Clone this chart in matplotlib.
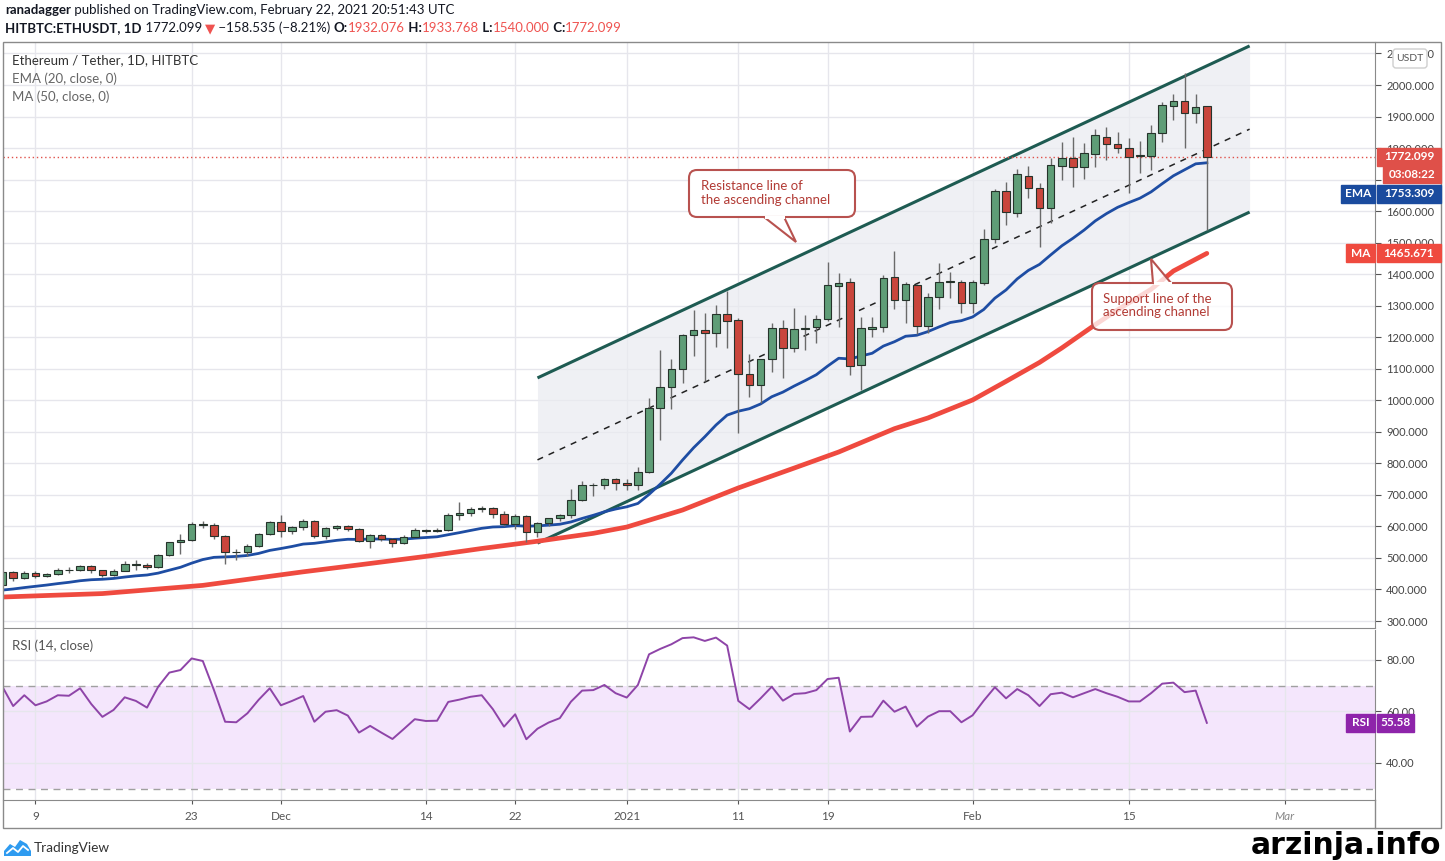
import numpy as np
import pandas as pd
import matplotlib
matplotlib.use('Agg')
import matplotlib.pyplot as plt
import matplotlib.dates as mdates
from matplotlib.patches import Rectangle, FancyBboxPatch, Polygon
from matplotlib.lines import Line2D
from matplotlib.transforms import IdentityTransform

plt.rcParams['font.family'] = ['Lato', 'DejaVu Sans']

# ---------------- data ----------------
first_day, last_day = '2020-11-06', '2021-02-22'

opens = [415, 455, 435, 453, 444, 449, 462, 461, 475, 461, 447, 460, 481, 479, 471, 509, 549, 558, 608, 603, 569, 518, 518, 538, 575,
         615, 587, 598, 616, 569, 596, 601, 592, 554, 573, 560, 546, 568, 590, 586, 589, 636, 642, 654, 659, 638, 609, 634, 583, 611, 626, 635, 683, 730, 731, 751,
         737, 730, 774, 975, 1042, 1099, 1207, 1223, 1214, 1274, 1255, 1083, 1049, 1131, 1229, 1166, 1227, 1232, 1258, 1362, 1375, 1112, 1225, 1232, 1391, 1318, 1366, 1236, 1328, 1375, 1375,
         1309, 1372, 1512, 1664, 1594, 1711, 1673, 1610, 1743, 1768, 1740, 1781, 1835, 1813, 1800, 1778, 1775, 1848, 1933, 1949, 1911, 1932.076]
highs = [458, 460, 457, 460, 452, 467, 471, 479, 477, 462, 465, 490, 492, 484, 512, 552, 576, 614, 617, 610, 572, 528, 544, 578, 616,
         636, 600, 622, 621, 597, 606, 606, 595, 576, 575, 562, 572, 595, 592, 595, 641, 676, 662, 666, 662, 648, 638, 636, 613, 628, 638, 720, 745, 738, 754, 755,
         749, 788, 1007, 1160, 1131, 1210, 1286, 1277, 1302, 1347, 1262, 1147, 1131, 1245, 1255, 1293, 1271, 1271, 1439, 1404, 1388, 1264, 1264, 1397, 1474, 1375, 1369, 1340, 1435, 1407, 1380,
         1380, 1543, 1670, 1692, 1735, 1743, 1689, 1768, 1819, 1835, 1816, 1860, 1867, 1851, 1832, 1822, 1873, 1946, 1971, 2038, 1971, 1933.768]
lows = [412, 428, 432, 436, 440, 447, 451, 457, 452, 441, 444, 457, 462, 465, 469, 505, 512, 555, 595, 560, 480, 493, 507, 535, 572,
        566, 575, 588, 562, 561, 588, 585, 549, 530, 553, 536, 545, 565, 580, 581, 585, 620, 632, 645, 628, 602, 592, 550, 568, 600, 618, 628, 680, 697, 718, 716,
        715, 715, 768, 874, 972, 1055, 1140, 1061, 1169, 1166, 896, 1010, 991, 1090, 1071, 1153, 1160, 1182, 1250, 1232, 1080, 1033, 1200, 1216, 1290, 1245, 1210, 1215, 1290, 1324, 1277,
        1277, 1366, 1500, 1556, 1580, 1642, 1486, 1562, 1699, 1676, 1702, 1740, 1762, 1784, 1657, 1721, 1730, 1820, 1889, 1800, 1880, 1540.0]
closes = [455, 435, 453, 444, 449, 462, 461, 475, 461, 447, 460, 481, 479, 471, 509, 549, 558, 608, 603, 569, 518, 518, 538, 575, 615,
          587, 598, 616, 569, 596, 601, 592, 554, 573, 560, 546, 568, 590, 586, 589, 636, 642, 654, 659, 638, 609, 634, 583, 611, 626, 635, 683, 730, 731, 751, 737,
          730, 774, 975, 1042, 1099, 1207, 1223, 1214, 1274, 1252, 1083, 1049, 1131, 1229, 1166, 1227, 1229, 1258, 1366, 1372, 1109, 1229, 1233, 1388, 1318, 1369, 1236, 1328, 1375, 1378, 1309,
          1375, 1512, 1664, 1597, 1718, 1673, 1610, 1746, 1768, 1740, 1784, 1841, 1813, 1800, 1772, 1776, 1848, 1937, 1949, 1911, 1930, 1772.099]

ema20 = [398, 401.5, 406, 410, 414, 418.6, 422.7, 427.7, 430.9, 432.4, 435, 439.4, 443.2, 445.9, 451.9, 461.2, 470.4, 483.5, 494.9, 501.9, 503.4, 504.8, 507.9, 514.3, 523.9,
         529.9, 536.4, 544, 546.4, 551.1, 555.8, 559.2, 558.7, 560.1, 560.1, 558.8, 559.7, 562.6, 564.8, 567.1, 573.7, 580.2, 587.2, 594, 598.2, 599.2, 602.5, 600.7, 601.7, 604, 606.9, 614.2, 625.3, 635.3, 646.4, 655.1,
         662.2, 672.8, 701.6, 734, 768.7, 810.4, 849.7, 884.4, 921.5, 953, 965.4, 973.4, 988.4, 1011.3, 1026, 1045.1, 1062.6, 1081.2, 1108.3, 1133.4, 1131.1, 1140.4, 1149.2, 1171.9, 1185.8, 1203.2, 1206.3, 1217.9, 1232.8, 1246.7, 1252.6,
         1264.3, 1288, 1324, 1350, 1385, 1412, 1431, 1461, 1490, 1514, 1540, 1569, 1592, 1612, 1627, 1641, 1661, 1687, 1712, 1731, 1750, 1753.3]

ma50_dates = ['2020-11-06', '2020-11-15', '2020-11-24', '2020-12-03', '2020-12-08', '2020-12-14', '2020-12-19',
              '2020-12-24', '2020-12-29', '2021-01-01', '2021-01-06', '2021-01-11', '2021-01-16', '2021-01-20',
              '2021-01-25', '2021-01-28', '2021-02-01', '2021-02-04', '2021-02-07', '2021-02-09', '2021-02-12',
              '2021-02-14', '2021-02-17', '2021-02-19', '2021-02-22']
ma50 = [376, 387, 413, 456, 478, 505, 530, 553, 578, 598, 652, 722, 785, 836, 910, 944, 1001, 1060, 1120, 1166,
        1240, 1287, 1352, 1410, 1466]

rsi14 = [69.9, 62.1, 66.3, 62.4, 63.9, 66.3, 66.1, 69.0, 62.9, 57.9, 60.6, 65.5, 64.1, 61.5, 69.6, 75.1, 76.1, 80.6, 79.6, 68.3, 56.0, 55.8, 59.3, 64.5, 69.0,
         62.4, 64.1, 66.0, 56.0, 59.9, 60.5, 58.4, 51.8, 54.4, 51.8, 49.3, 53.1, 57.0, 56.3, 56.4, 63.7, 64.6, 65.7, 66.3, 60.9, 54.1, 58.9, 49.2, 53.3, 55.7, 57.4, 63.8, 68.1, 68.3, 70.3, 67.1,
         65.4, 70.3, 82.2, 84.3, 86.1, 88.5, 88.8, 87.4, 88.7, 85.6, 64.1, 60.9, 65.1, 69.6, 64.2, 66.8, 67.1, 68.3, 72.6, 73.1, 52.2, 57.9, 58.0, 64.2, 59.9, 61.9, 54.1, 58.0, 60.1, 60.1, 55.8,
         58.5, 64.2, 69.4, 65.1, 68.7, 66.3, 62.1, 66.7, 67.3, 65.5, 67.1, 68.7, 67.1, 65.7, 63.9, 63.9, 67.1, 70.8, 71.2, 67.5, 68.1, 55.58]

chan_dates = ['2020-12-24 00:00', '2021-02-25 20:00']
chan_upper = [1071, 2124]
chan_mid = [811, 1860]
chan_lower = [547, 1597]

tick_dates = ['2020-11-09', '2020-11-23', '2020-12-01', '2020-12-14', '2020-12-22', '2021-01-01',
              '2021-01-11', '2021-01-19', '2021-02-01', '2021-02-15', '2021-03-01']
tick_labels = ['9', '23', 'Dec', '14', '22', '2021', '11', '19', 'Feb', '15', 'Mar']
price_ticks = list(range(300, 2101, 100))
rsi_ticks = [40, 60, 80]

last_price = 1772.099
ema_last = 1753.309
ma_last = 1465.671
rsi_last = 55.58

# ---------------- figure ----------------
W, H = 1445, 861
fig = plt.figure(figsize=(W / 100, H / 100), dpi=100)
fig.patch.set_facecolor('white')
ID = IdentityTransform()


def frac(x0, y0, x1, y1):
    return [x0 / W, 1 - y1 / H, (x1 - x0) / W, (y1 - y0) / H]


ax = fig.add_axes(frac(3, 42, 1375, 628))
rax = fig.add_axes(frac(3, 630, 1375, 800), sharex=ax)

days = mdates.date2num(pd.date_range(first_day, last_day))
o = np.array(opens); h = np.array(highs); l = np.array(lows); c = np.array(closes)
up = c >= o

grid_c = '#e6e6ec'
frame_c = '#8a8a8a'
GREEN, RED = '#5f9d77', '#c9463c'

# channel
cx = mdates.date2num(pd.to_datetime(chan_dates, format='%Y-%m-%d %H:%M'))
ax.fill_between(cx, chan_lower, chan_upper, color='#e9ebf0', alpha=0.7, lw=0, zorder=1)
ax.plot(cx, chan_upper, color='#1e5b52', lw=2.2, zorder=2, solid_capstyle='butt')
ax.plot(cx, chan_lower, color='#1e5b52', lw=2.2, zorder=2, solid_capstyle='butt')
ax.plot(cx, chan_mid, color='#222222', lw=1.1, ls=(0, (4, 4)), zorder=2)

# moving averages
ax.plot(mdates.date2num(pd.to_datetime(ma50_dates)), ma50, color='#ef4a3f', lw=3.4, zorder=3,
        solid_capstyle='round', solid_joinstyle='round')
ax.plot(days, ema20, color='#1e4da3', lw=2.0, zorder=3)

# candles
ax.vlines(days, l, h, color='#6a6a6a', lw=1, zorder=4)
ax.bar(days, c - o, bottom=o, width=0.68, color=np.where(up, GREEN, RED),
       edgecolor='#26332b', linewidth=0.8, zorder=5)

ax.axhline(last_price, color='#e0514a', lw=1, ls=(0, (1, 2)), zorder=3)

xl0 = mdates.date2num(pd.Timestamp(first_day)) + 0.09
ax.set_xlim(xl0, xl0 + 1372 / 11.156)
ax.set_ylim(277.8, 2136.4)
ax.set_yticks(price_ticks)
ax.set_yticklabels([f'{v:.3f}' for v in price_ticks])
ax.yaxis.tick_right()
ax.tick_params(axis='y', colors='#555555', labelsize=8, length=4, pad=4, labelcolor='#444444')
ax.tick_params(axis='x', length=0, labelbottom=False)
ax.grid(True, color=grid_c, lw=1)
ax.set_axisbelow(True)
for s in ['top', 'left']:
    ax.spines[s].set_visible(False)
ax.spines['right'].set_color(frame_c)
ax.spines['bottom'].set_color(frame_c)

# RSI pane
rax.axhspan(30, 70, color='#f4e6fc', lw=0, zorder=0)
rax.axhline(70, color='#a0a0a0', lw=1, ls=(0, (5, 4)), zorder=1)
rax.axhline(30, color='#a0a0a0', lw=1, ls=(0, (5, 4)), zorder=1)
rax.plot(days, rsi14, color='#8e44a8', lw=1.4, zorder=3)
rax.set_ylim(25.6, 91.65)
rax.set_yticks(rsi_ticks)
rax.set_yticklabels([f'{v:.2f}' for v in rsi_ticks])
rax.yaxis.tick_right()
rax.tick_params(axis='y', colors='#555555', labelsize=8, length=4, pad=4, labelcolor='#444444')
rax.set_xticks(mdates.date2num(pd.to_datetime(tick_dates)))
rax.set_xticklabels(tick_labels)
rax.tick_params(axis='x', colors='#555555', labelsize=8.5, length=3, pad=5, labelcolor='#555555')
rax.get_xticklabels()[-1].set_fontstyle('italic')
rax.get_xticklabels()[-1].set_color('#888888')
rax.grid(True, color=grid_c, lw=1)
rax.set_axisbelow(True)
for s in ['top', 'left']:
    rax.spines[s].set_visible(False)
rax.spines['right'].set_color(frame_c)
rax.spines['bottom'].set_color(frame_c)
ax.set_xticks(mdates.date2num(pd.to_datetime(tick_dates)))

# outer frame
fig.add_artist(Rectangle((3, H - 828), 1438, 786, transform=ID, fill=False, ec=frame_c, lw=1, zorder=1))
fig.add_artist(Line2D([1375, 1375], [H - 828, H - 800], transform=ID, color=frame_c, lw=1))


def ptxt(x, y, s, **kw):
    return fig.text(x, H - y, s, transform=ID, **kw)


# ---------------- header ----------------
r = fig.canvas.get_renderer()


def width_of(s, **kw):
    t = fig.text(0, 0, s + '|', **kw)
    w1 = t.get_window_extent(r).width
    t.set_text('|')
    w2 = t.get_window_extent(r).width
    t.remove()
    return w1 - w2


def run_text(x, y, parts, size):
    for s, col, wt in parts:
        kw = dict(fontsize=size, color=col, fontweight=wt)
        ptxt(x, y, s, va='center', ha='left', **kw)
        x += width_of(s, **kw)


DARK = '#131722'
PR = '#ef5350'
run_text(5, 10, [('ranadagger', DARK, 'bold'),
                 (' published on TradingView.com, February 22, 2021 20:51:43 UTC', DARK, 'normal')], 9.5)
run_text(5, 28, [('HITBTC:ETHUSDT, 1D', DARK, 'bold'), (' 1772.099 ', DARK, 'normal'), ('▼', PR, 'normal'),
                 (' \u2212158.535 (\u22128.21%) ', DARK, 'normal'), ('O:', DARK, 'bold'), ('1932.076', PR, 'normal'),
                 (' H:', DARK, 'bold'), ('1933.768', PR, 'normal'), (' L:', DARK, 'bold'), ('1540.000', PR, 'normal'),
                 (' C:', DARK, 'bold'), ('1772.099', PR, 'normal')], 9.5)

ptxt(12, 60, 'Ethereum / Tether, 1D, HITBTC', fontsize=9.5, color='#333333', va='center')
ptxt(12, 79, 'EMA (20, close, 0)', fontsize=9.5, color='#666666', va='center')
ptxt(12, 97, 'MA (50, close, 0)', fontsize=9.5, color='#666666', va='center')
ptxt(12, 646, 'RSI (14, close)', fontsize=9.5, color='#555555', va='center')

# ---------------- right-hand tags ----------------


def ypix(axis, v):
    return axis.transData.transform((xl0, v))[1]


def tag(x0, x1, yc, text, color, h=18, bold=True, size=8.5):
    fig.add_artist(Rectangle((x0, yc - h / 2), x1 - x0, h, transform=ID, color=color, zorder=5))
    fig.text((x0 + x1) / 2, yc, text, transform=ID, ha='center', va='center', color='white',
             fontsize=size, fontweight='bold' if bold else 'normal', zorder=6)


yp = ypix(ax, last_price)
tag(1377, 1441, yp, '1772.099', '#df5049')
tag(1383, 1441, yp - 18, '03:08:22', '#df5049', h=17)
# the EMA tag is pushed below the countdown so the labels do not collide
ye = min(ypix(ax, ema_last), yp - 37)
tag(1341, 1375, ye, 'EMA', '#1a4b9e')
tag(1377, 1441, ye, '1753.309', '#1a4b9e')
ym = ypix(ax, ma_last)
tag(1346, 1375, ym, 'MA', '#ef4a3f')
tag(1377, 1441, ym, '1465.671', '#ef4a3f')
yr = ypix(rax, rsi_last)
tag(1346, 1375, yr, 'RSI', '#8e24aa')
tag(1377, 1414, yr, '55.58', '#8e24aa')

fig.add_artist(FancyBboxPatch((1393, H - 68), 34, 19, boxstyle='round,pad=0,rounding_size=3', transform=ID,
                              fc='white', ec='#cfcfcf', lw=1, zorder=5))
ptxt(1410, 58.5, 'USDT', fontsize=7.5, color='#555555', ha='center', va='center', zorder=6)

# ---------------- callouts ----------------
EDGE = '#b8524f'
TXT = '#b23b35'


def callout(x0, y0, x1, y1, b1, b2, tip, lines, tx, ty, fill):
    fig.add_artist(FancyBboxPatch((x0, H - y1), x1 - x0, y1 - y0, boxstyle='round,pad=0,rounding_size=8',
                                  transform=ID, fc=fill, ec=EDGE, lw=1.5, zorder=6))
    fig.add_artist(Polygon([(b1[0], H - b1[1]), (tip[0], H - tip[1]), (b2[0], H - b2[1])], closed=False,
                           transform=ID, fc=fill, ec=EDGE, lw=1.5, zorder=6))
    fig.add_artist(Line2D([b1[0] + 1.5, b2[0] - 1.5], [H - b1[1], H - b2[1]], transform=ID,
                          color='white', lw=2.2, zorder=6))
    for i, s in enumerate(lines):
        ptxt(tx, ty + i * 13.5, s, fontsize=9.5, color=TXT, va='center', zorder=7)


callout(689, 170, 855, 217, (764, 217), (784, 217), (796, 242),
        ['Resistance line of', 'the ascending channel'], 701, 186, 'white')
callout(1092, 283, 1232, 330, (1153, 283), (1171, 283), (1151, 259),
        ['Support line of the', 'ascending channel'], 1103, 299, (1, 1, 1, 0.78))

# ---------------- footer ----------------
logo = [(4, 856), (4, 851), (10, 844), (15, 847), (20, 840), (27, 844), (31, 851), (31, 856)]
fig.add_artist(Polygon([(x, H - y) for x, y in logo], closed=True, transform=ID, fc='#2e9bf0', ec='none'))
fig.add_artist(Line2D([7, 13, 18, 23, 28], [H - 853, H - 848, H - 852, H - 846, H - 850], transform=ID,
                      color='white', lw=1.3))
ptxt(34, 848, 'TradingView', fontsize=9.8, color='#333333', va='center')
ptxt(1441, 845, 'arzinja.info', fontsize=21.5, fontweight='bold', family=['DejaVu Sans'],
     color='black', ha='right', va='center')

fig.savefig('out.png', dpi=100)
